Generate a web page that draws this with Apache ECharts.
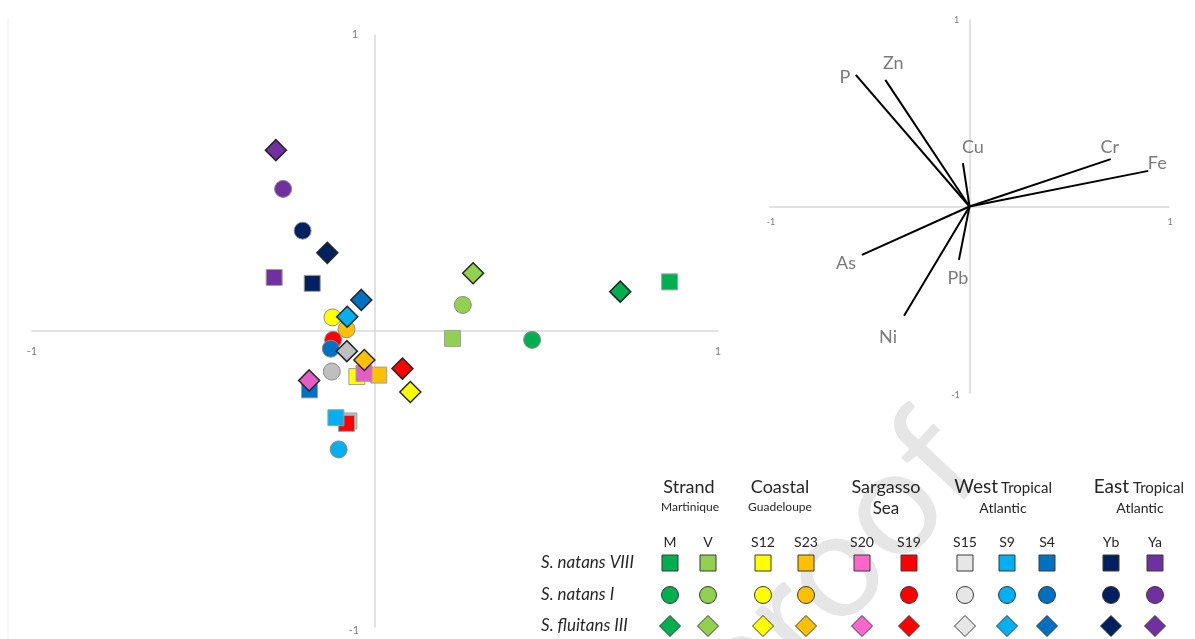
<!DOCTYPE html>
<html>
<head>
<meta charset="utf-8">
<script src="https://cdn.jsdelivr.net/npm/echarts@6/dist/echarts.min.js"></script>
<style>
  html, body { margin: 0; padding: 0; background: #fff; overflow: hidden; }
  #chart { width: 1195px; height: 639px; }
</style>
</head>
<body>
<div id="chart"></div>
<script>
// Sampling sites (one column each in the key)
const sites = ['M', 'V', 'S12', 'S23', 'S20', 'S19', 'S15', 'S9', 'S4', 'Yb', 'Ya'];

// Site scores on the two principal axes, one array per morphotype (null = not sampled)
const natansVIII = [
  [0.859, 0.166], [0.226, -0.025], [-0.053, -0.154], [0.011, -0.149], [-0.032, -0.143],
  [-0.083, -0.312], [-0.076, -0.304], [-0.114, -0.293], [-0.191, -0.199], [-0.183, 0.161], [-0.294, 0.181]
];
const natansI = [
  [0.458, -0.030], [0.256, 0.088], [-0.124, 0.046], [-0.083, 0.006], null,
  [-0.122, -0.030], [-0.126, -0.137], [-0.106, -0.400], [-0.129, -0.060], [-0.211, 0.339], [-0.268, 0.480]
];
const fluitansIII = [
  [0.715, 0.133], [0.286, 0.195], [0.103, -0.206], [-0.031, -0.098], [-0.192, -0.167],
  [0.080, -0.127], [-0.082, -0.068], [-0.081, 0.048], [-0.040, 0.105], [-0.139, 0.264], [-0.289, 0.611]
];

// Element loadings
const elements = ['P', 'Zn', 'Cu', 'Cr', 'Fe', 'As', 'Pb', 'Ni'];
const loadingX = [-0.570, -0.422, -0.033, 0.708, 0.896, -0.539, -0.053, -0.328];
const loadingY = [0.706, 0.679, 0.233, 0.254, 0.191, -0.259, -0.286, -0.586];

// Key text
const morphotypes = ['S. natans VIII', 'S. natans I', 'S. fluitans III'];
const regionNames = ['Strand', 'Coastal', 'Sargasso', 'West', 'East'];
const regionSubs = ['Martinique', 'Guadeloupe', 'Sea', 'Atlantic', 'Atlantic'];
const axisTicks = [-1, 1];

// ---- styling ----
const FONT = 'Lato, "Open Sans", sans-serif';
const siteColors = ['#00B050', '#92D050', '#FFFF00', '#FFC000', '#E35DC6', '#FF0000',
                    '#BFBFBF', '#00B0F0', '#0070C0', '#002060', '#7030A0'];
const keyColors  = ['#00B050', '#92D050', '#FFFF00', '#FFC000', '#FF66CC', '#FF0000',
                    '#E7E6E6', '#00B0F0', '#0070C0', '#002060', '#7030A0'];
const AXIS_GREY = '#D9D9D9';
const TEXT_GREY = '#595959';

// stacking order of the site markers (later = on top)
const drawOrder = [0, 1, 2, 3, 4, 6, 5, 7, 8, 9, 10];

// label offsets for the loading vectors (px from the vector tip)
const loadingLabelOffset = [[-11, 2], [8, -17], [10, -16], [-1, -12], [9, -8], [-16, 8], [-1, 18], [-16, 21]];

// key layout
const keyColX = [670, 708, 763, 806, 862, 909, 965, 1007, 1047, 1111, 1155];
const keyRowY = [563, 595, 626];

function valueAxis(gridIndex) {
  return {
    gridIndex: gridIndex,
    type: 'value',
    min: -1, max: 1, interval: 1,
    axisLine: { onZero: true, lineStyle: { color: AXIS_GREY, width: 1.5 } },
    axisTick: { show: false },
    splitLine: { show: false },
    axisLabel: { show: false }
  };
}

// "-1" / "1" labels placed at the ends of the zero-crossing axes
function tickLabelSeries(gridIndex, fontSize, xOffsets, yOffsets) {
  const data = [];
  axisTicks.forEach((t, k) => {
    data.push({ value: [t, 0], label: { offset: xOffsets[k] } });
  });
  axisTicks.forEach((t, k) => {
    data.push({ value: [0, t], label: { offset: yOffsets[k] } });
  });
  return {
    type: 'scatter', xAxisIndex: gridIndex, yAxisIndex: gridIndex,
    symbolSize: 1, itemStyle: { color: 'rgba(0,0,0,0)' }, silent: true, z: 1,
    data: data,
    label: {
      show: true, position: 'inside', color: TEXT_GREY, fontSize: fontSize, fontFamily: FONT,
      formatter: p => String(p.value[0] !== 0 ? p.value[0] : p.value[1])
    }
  };
}

function scoreSeries(name, values, symbol, size, border, borderWidth) {
  const data = [];
  drawOrder.forEach(i => {
    const p = values[i];
    if (!p) return;
    data.push({ value: p, name: sites[i], itemStyle: { color: siteColors[i] } });
  });
  return {
    name: name, type: 'scatter', xAxisIndex: 0, yAxisIndex: 0,
    symbol: symbol, symbolSize: size, data: data,
    itemStyle: { borderColor: border, borderWidth: borderWidth, opacity: 1 },
    emphasis: { disabled: true }, z: 3
  };
}

// ---- key (legend table) ----
const graphics = [];

// faint frame edge of the score plot
graphics.push({ type: 'line', shape: { x1: 8, y1: 18, x2: 8, y2: 639 }, style: { stroke: '#F0F0F0', lineWidth: 1 }, z: 0 });

// watermark
graphics.push({
  type: 'text', x: 832, y: 570, rotation: 47 * Math.PI / 180, z: 0,
  style: { text: 'proof', font: '150px ' + FONT, fill: '#E6E6E6', textAlign: 'center', textVerticalAlign: 'middle' }
});

function txt(x, y, text, size, opts) {
  opts = opts || {};
  graphics.push({
    type: 'text', x: x, y: y, z: 20,
    style: {
      text: text, fill: opts.color || '#262626',
      font: (opts.italic ? 'italic ' : '') + size + 'px ' + FONT,
      textAlign: opts.align || 'center', textVerticalAlign: 'middle'
    }
  });
}

// region headers
txt(689, 487, regionNames[0], 18);
txt(780, 487, regionNames[1], 18);
txt(886, 487, regionNames[2], 18);
txt(998, 487, regionNames[3], 19, { align: 'right' });
txt(1001, 488, 'Tropical', 15, { align: 'left' });
txt(1129, 487, regionNames[4], 19, { align: 'right' });
txt(1133, 488, 'Tropical', 15, { align: 'left' });
txt(690, 507, regionSubs[0], 12);
txt(780, 507, regionSubs[1], 12);
txt(886, 509, regionSubs[2], 17);
txt(1003, 508, regionSubs[3], 14);
txt(1140, 508, regionSubs[4], 14);

// site codes
sites.forEach((s, i) => txt(keyColX[i], 542, s, 14));

// morphotype row labels
morphotypes.forEach((m, r) => txt(541, keyRowY[r], m, 17, { align: 'left', italic: true }));

// key symbols, one per sampled site and morphotype
[natansVIII, natansI, fluitansIII].forEach((arr, r) => {
  arr.forEach((p, i) => {
    if (!p) return;
    const cx = keyColX[i], cy = keyRowY[r];
    const style = { fill: keyColors[i], stroke: '#3A3A3A', lineWidth: 1 };
    if (r === 0) {
      graphics.push({ type: 'rect', z: 20, shape: { x: cx - 8, y: cy - 8, width: 16, height: 16 }, style: style });
    } else if (r === 1) {
      graphics.push({ type: 'circle', z: 20, shape: { cx: cx, cy: cy, r: 8.5 }, style: style });
    } else {
      const h = 10.5;
      graphics.push({ type: 'polygon', z: 20, shape: { points: [[cx, cy - h], [cx + h, cy], [cx, cy + h], [cx - h, cy]] }, style: style });
    }
  });
});

const option = {
  backgroundColor: '#ffffff',
  animation: false,
  grid: [
    { left: 32, right: 477, top: 35, bottom: 12, containLabel: false, outerBoundsMode: 'none' },
    { left: 770, right: 26, top: 20, bottom: 246, containLabel: false, outerBoundsMode: 'none' }
  ],
  xAxis: [valueAxis(0), valueAxis(1)],
  yAxis: [valueAxis(0), valueAxis(1)],
  graphic: { elements: graphics },
  series: [
    tickLabelSeries(0, 11, [[0, 20], [0, 20]], [[-21, 3], [-20, -1]]),
    tickLabelSeries(1, 9, [[1, 16], [1, 16]], [[-14, 2], [-13, 0]]),
    scoreSeries('S. natans VIII', natansVIII, 'rect', 16, '#A0A0A0', 1),
    scoreSeries('S. natans I', natansI, 'circle', 17, '#8C8C8C', 1),
    scoreSeries('S. fluitans III', fluitansIII, 'diamond', 21, '#262626', 1.5),
    {
      name: 'loadings', type: 'lines', coordinateSystem: 'cartesian2d', xAxisIndex: 1, yAxisIndex: 1,
      lineStyle: { color: '#000000', width: 2, opacity: 1 },
      data: elements.map((e, i) => ({ name: e, coords: [[0, 0], [loadingX[i], loadingY[i]]] })),
      silent: true, z: 3
    },
    {
      name: 'loading labels', type: 'scatter', xAxisIndex: 1, yAxisIndex: 1,
      symbolSize: 1, itemStyle: { color: 'rgba(0,0,0,0)' },
      data: elements.map((e, i) => ({
        name: e, value: [loadingX[i], loadingY[i]],
        label: { offset: loadingLabelOffset[i] }
      })),
      label: {
        show: true, position: 'inside', formatter: '{b}',
        color: TEXT_GREY, fontSize: 18, fontFamily: FONT
      },
      silent: true, z: 4
    }
  ]
};

const chart = echarts.init(document.getElementById('chart'), null, { renderer: 'canvas' });
chart.setOption(option);
</script>
</body>
</html>
